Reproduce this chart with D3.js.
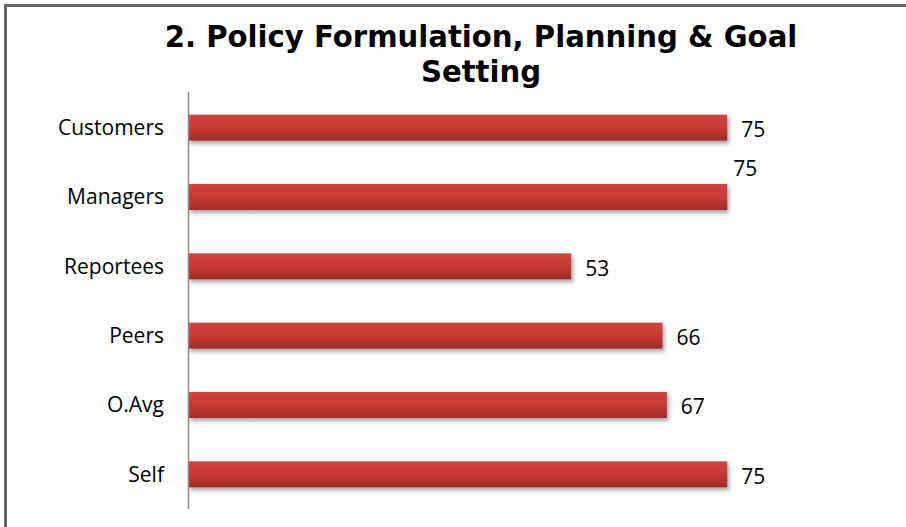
<!DOCTYPE html>
<html>
<head>
<meta charset="utf-8">
<script src="https://cdn.jsdelivr.net/npm/d3@7"></script>
<style>
  body { margin: 0; background: #fff; }
  svg { display: block; }
</style>
</head>
<body>
<script>
const categories = ["Customers", "Managers", "Reportees", "Peers", "O.Avg", "Self"];
const scores = [75, 75, 53.3, 66, 66.6, 75];
const chartTitle = ["2. Policy Formulation, Planning & Goal", "Setting"];

const width = 906;
const height = 527;

const data = categories.map((c, i) => ({ name: c, value: scores[i] }));

const svg = d3.select("body").append("svg").attr("width", width).attr("height", height);

// gradiente y sombra de las barras
const defs = svg.append("defs");
const grad = defs.append("linearGradient").attr("id", "barGrad").attr("x1", 0).attr("y1", 0).attr("x2", 0).attr("y2", 1);
grad.append("stop").attr("offset", "0%").attr("stop-color", "#d2413e");
grad.append("stop").attr("offset", "45%").attr("stop-color", "#c93c39");
grad.append("stop").attr("offset", "100%").attr("stop-color", "#9e2b29");

const shadow = defs.append("filter").attr("id", "shadow").attr("x", "-5%").attr("y", "-30%").attr("width", "110%").attr("height", "180%");
shadow.append("feDropShadow").attr("dx", 2).attr("dy", 3).attr("stdDeviation", 2).attr("flood-color", "#000").attr("flood-opacity", 0.35);

// marco del gráfico (cortado a la derecha y abajo)
svg.append("rect")
  .attr("x", 5.5).attr("y", 5.5)
  .attr("width", width + 20).attr("height", height + 20)
  .attr("fill", "none")
  .attr("stroke", "#666")
  .attr("stroke-width", 3);

// título: la fuente original es más angosta, así que se comprime en x
const titleG = svg.append("g");
const title = titleG.append("text")
  .attr("text-anchor", "middle")
  .style("font-family", "'DejaVu Sans', Verdana, sans-serif")
  .style("font-weight", "bold")
  .style("font-size", "31px")
  .attr("fill", "#000");
title.selectAll("tspan")
  .data(chartTitle)
  .enter()
  .append("tspan")
  .attr("x", 0)
  .attr("y", (_, i) => 47 + i * 35)
  .text((d) => d);
const firstLine = title.select("tspan").node().getComputedTextLength();
titleG.attr("transform", `translate(481,0) scale(${633 / firstLine},1)`);

const x = d3.scaleLinear().domain([0, 100]).range([188, 907]);
const y = d3.scaleBand().domain(categories).range([93, 509]).paddingInner(0.625).paddingOuter(0.3125);

const labelFont = "'Open Sans', 'Liberation Sans', sans-serif";

// etiquetas de categorías
svg.append("g")
  .selectAll("text")
  .data(data)
  .enter()
  .append("text")
  .attr("x", 164)
  .attr("y", (d) => y(d.name) + y.bandwidth() / 2)
  .attr("dy", "0.35em")
  .attr("text-anchor", "end")
  .style("font-family", labelFont)
  .style("font-size", "21px")
  .attr("fill", "#000")
  .text((d) => d.name);

// barras
svg.append("g")
  .selectAll("rect")
  .data(data)
  .enter()
  .append("rect")
  .attr("x", x(0))
  .attr("y", (d) => y(d.name))
  .attr("width", (d) => x(d.value) - x(0))
  .attr("height", y.bandwidth())
  .attr("fill", "url(#barGrad)")
  .attr("filter", "url(#shadow)");

// eje vertical
svg.append("line")
  .attr("x1", 188.5).attr("x2", 188.5)
  .attr("y1", 92).attr("y2", 509)
  .attr("stroke", "#8c8c8c")
  .attr("stroke-width", 1.5);

// valores (el de Managers va arriba de la barra, como en el original)
const fmt = d3.format(".0f");
svg.append("g")
  .selectAll("text")
  .data(data)
  .enter()
  .append("text")
  .attr("x", (d) => x(d.value) + (d.name === "Managers" ? 6 : 14))
  .attr("y", (d) => y(d.name) + y.bandwidth() / 2 + (d.name === "Managers" ? -28 : 2))
  .attr("dy", "0.35em")
  .style("font-family", labelFont)
  .style("font-size", "21px")
  .attr("fill", "#000")
  .text((d) => fmt(d.value));
</script>
</body>
</html>
